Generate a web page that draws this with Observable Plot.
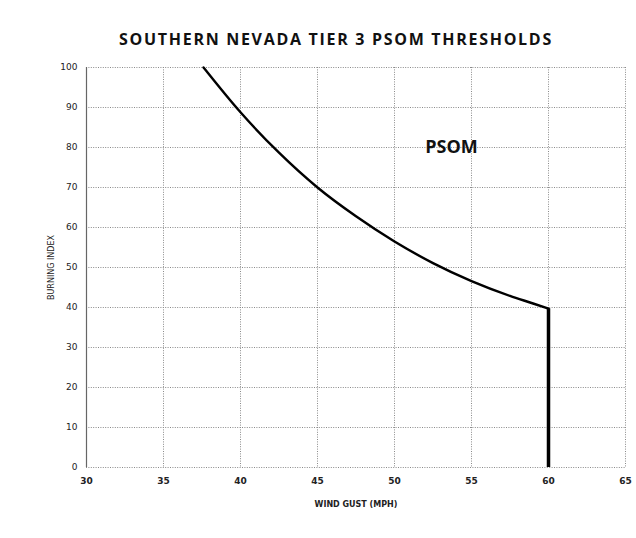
<!DOCTYPE html>
<html>
<head>
<meta charset="utf-8">
<script src="https://cdn.jsdelivr.net/npm/d3@7"></script>
<script src="https://cdn.jsdelivr.net/npm/@observablehq/plot@0.6"></script>
<style>
  body { margin: 0; background: #fff; }
  #chart svg { display: block; }
</style>
</head>
<body>
<div id="chart"></div>
<script>
const title = "SOUTHERN NEVADA TIER 3 PSOM THRESHOLDS";
const xLabel = "WIND GUST (MPH)";
const yLabel = "BURNING INDEX";
const zoneLabel = "PSOM";

const windGust     = [37.6, 40, 42.5, 45, 47.5, 50, 52.5, 55, 57.5, 59, 60];
const burningIndex = [100, 88.8, 78.7, 70, 62.8, 56.5, 51.1, 46.6, 42.9, 41, 39.7];

const cutoffGust = [60];
const cutoffTop = 39.7;

const xTicks = [30, 35, 40, 45, 50, 55, 60, 65];
const yTicks = [0, 10, 20, 30, 40, 50, 60, 70, 80, 90, 100];

const curve = windGust.map((g, i) => ({gust: g, bi: burningIndex[i]}));

const gridStyle = {stroke: "#8a8a8a", strokeOpacity: 1, strokeDasharray: "1,1.4", strokeWidth: 1};

const chart = Plot.plot({
  width: 636,
  height: 538,
  marginLeft: 86,
  marginRight: 11,
  marginTop: 67,
  marginBottom: 71,
  style: {fontFamily: "DejaVu Sans, sans-serif", fontSize: "9px", color: "#222", background: "#fff"},
  x: {domain: [30, 65], ticks: xTicks},
  y: {domain: [0, 100], ticks: yTicks},
  marks: [
    Plot.gridX(xTicks, gridStyle),
    Plot.gridY(yTicks, gridStyle),
    Plot.axisY(yTicks, {tickSize: 0, tickPadding: 9, fontSize: 9, label: yLabel, labelAnchor: "center", labelOffset: 38, labelArrow: "none"}),
    Plot.axisX(xTicks, {tickSize: 0, tickPadding: 10, fontSize: 9, fontWeight: "bold", label: xLabel, labelAnchor: "center", labelOffset: 39, labelArrow: "none"}),
    Plot.ruleX([30], {stroke: "#666", strokeWidth: 1.2}),
    Plot.line(curve, {x: "gust", y: "bi", curve: "monotone-x", stroke: "#000", strokeWidth: 2.4}),
    Plot.ruleX(cutoffGust, {y1: 0, y2: cutoffTop, stroke: "#000", strokeWidth: 3.5}),
    Plot.text([zoneLabel], {x: 53.7, y: 80, fontSize: 18, fontWeight: "bold", fill: "#111", fontFamily: "Open Sans, sans-serif"}),
    Plot.text([title], {frameAnchor: "top", dy: -34, dx: -20, fontSize: 16, fontWeight: "bold", fill: "#111", fontFamily: "Open Sans, sans-serif"})
  ]
});

d3.select(chart).selectAll("g[aria-label='y-axis label'] text, g[aria-label='x-axis label'] text")
  .style("font-size", "8px");
d3.select(chart).selectAll("g[aria-label='text'] text")
  .filter(function() { return d3.select(this).text() === title; })
  .style("letter-spacing", "1.7px");

document.getElementById("chart").appendChild(chart);
</script>
</body>
</html>
